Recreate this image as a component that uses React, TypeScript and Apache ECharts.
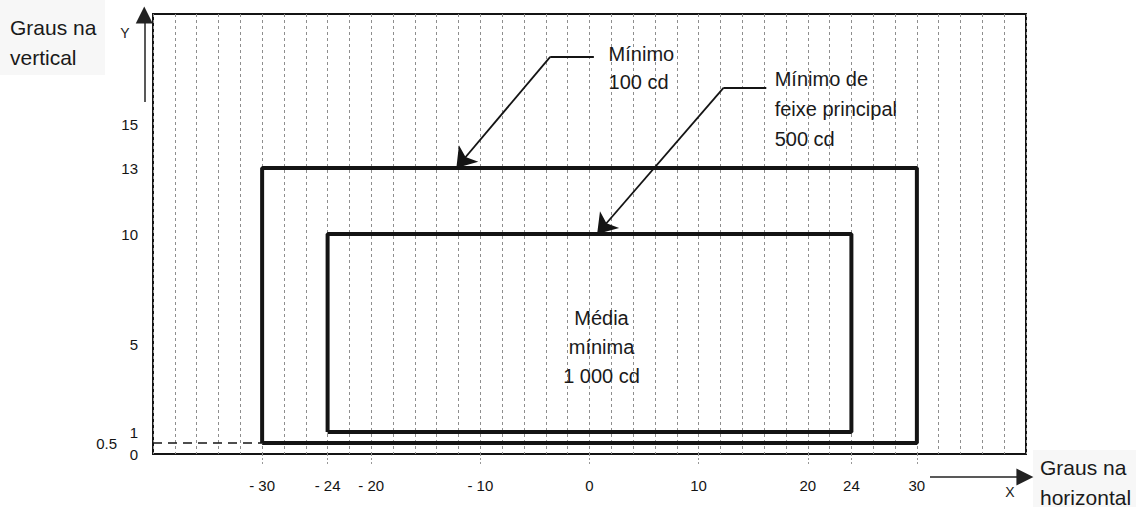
import React, { useEffect, useRef } from "react";
import * as echarts from "echarts";

const FONT = "'Liberation Sans', Arial, sans-serif";

// Axis ticks shown as labels
const xTickLabels = [-30, -24, -20, -10, 0, 10, 20, 24, 30];
const yTickLabels = [0, 0.5, 1, 5, 10, 13, 15];

// Zones (degrees)
const outerX = [-30, 30];
const outerY = [0.5, 13];
const innerX = [-24, 24];
const innerY = [1, 10];

// Dashed reference line at 0.5°
const halfDegreeLine = [[-40, 0.5], [-30, 0.5]];

// Leader arrows (data coordinates): horizontal shoulder then diagonal to tip
const arrow100 = [[0.4, 18.05], [-3.6, 18.05], [-12.2, 13]];
const arrow500 = [[16.2, 16.65], [12.3, 16.65], [0.7, 10]];
const yAxisArrow = [[-40.8, 16.0], [-40.8, 19.95]];
const xAxisArrow = [[31.2, -1.04], [39.9, -1.04]];

// Text annotations: anchor (first line) in data coordinates
const labelMin100 = { x: 1.75, y: 18.2, lines: ["Mínimo", "100 cd"], lh: 28, align: "left" };
const labelMin500 = { x: 16.97, y: 17.06, lines: ["Mínimo de", "feixe principal", "500 cd"], lh: 30, align: "left" };
const labelMedia = { x: 1.1, y: 6.2, lines: ["Média", "mínima", "1 000 cd"], lh: 29, align: "center" };

function rectPath(xs: number[], ys: number[]) {
  return [
    [xs[0], ys[0]],
    [xs[1], ys[0]],
    [xs[1], ys[1]],
    [xs[0], ys[1]],
    [xs[0], ys[0]],
  ];
}

export default function App() {
  const ref = useRef<HTMLDivElement>(null);
  useEffect(() => {
    if (!ref.current) return;
    const chart = echarts.init(ref.current, null, { renderer: "svg" });
    const ink = "#141414";
    const option: any = {
      animation: false,
      backgroundColor: "#ffffff",
      grid: {
        left: 153,
        top: 14,
        right: 110,
        bottom: 53,
        show: true,
        borderColor: ink,
        borderWidth: 2,
        backgroundColor: "transparent",
      },
      xAxis: [
        {
          type: "value",
          min: -40,
          max: 40,
          interval: 2,
          axisLine: { show: false },
          axisTick: {
            show: true,
            customValues: xTickLabels,
            length: 12,
            lineStyle: { color: "#999", type: [2, 2] },
          },
          axisLabel: {
            customValues: xTickLabels,
            margin: 24,
            color: ink,
            fontSize: 15,
            fontFamily: FONT,
            formatter: (v: number) => (v < 0 ? "- " + Math.abs(v) : String(v)),
          },
          splitLine: { show: false },
        },
        {
          type: "value",
          min: -40,
          max: 40,
          interval: 2,
          position: "bottom",
          axisLine: { show: false },
          axisTick: { show: false },
          axisLabel: { show: false },
          splitLine: {
            show: true,
            lineStyle: { color: "#8e8e8e", width: 1, type: [3, 3] },
          },
        },
      ],
      yAxis: {
        type: "value",
        min: 0,
        max: 20,
        interval: 5,
        axisLine: { show: false },
        axisTick: {
          show: true,
          customValues: [0.5],
          length: 31,
          lineStyle: { color: ink, width: 1.5, type: [8, 5] },
        },
        axisLabel: {
          customValues: yTickLabels,
          margin: 15,
          color: ink,
          fontSize: 15,
          fontFamily: FONT,
          formatter: (v: number) => (v === 0.5 ? "{far|0.5}" : String(v)),
          rich: {
            far: { padding: [0, 21, 0, 0], fontSize: 15, color: ink, fontFamily: FONT },
          },
        },
        splitLine: { show: false },
      },
      series: [
        {
          type: "line",
          data: rectPath(outerX, outerY),
          symbol: "none",
          lineStyle: { color: ink, width: 4 },
          z: 5,
        },
        {
          type: "line",
          data: rectPath(innerX, innerY),
          symbol: "none",
          lineStyle: { color: ink, width: 4 },
          z: 5,
        },
        {
          type: "line",
          data: halfDegreeLine,
          symbol: "none",
          lineStyle: { color: ink, width: 1.5, type: [9, 6] },
          z: 4,
        },
        {
          // horizontal shoulders of leader lines
          type: "lines",
          coordinateSystem: "cartesian2d",
          clip: false,
          symbol: "none",
          lineStyle: { color: ink, width: 1.8, opacity: 1 },
          data: [{ coords: arrow100.slice(0, 2) }, { coords: arrow500.slice(0, 2) }],
          z: 6,
        },
        {
          // diagonal parts with arrowheads
          type: "lines",
          coordinateSystem: "cartesian2d",
          clip: false,
          symbol: ["none", "arrow"],
          symbolSize: [0, 19],
          lineStyle: { color: ink, width: 1.8, opacity: 1 },
          data: [{ coords: arrow100.slice(1) }, { coords: arrow500.slice(1) }],
          z: 6,
        },
        {
          type: "lines",
          coordinateSystem: "cartesian2d",
          clip: false,
          symbol: ["none", "triangle"],
          symbolSize: [0, 17],
          lineStyle: { color: "#222", width: 1.5, opacity: 1 },
          data: [{ coords: yAxisArrow }, { coords: xAxisArrow }],
          z: 6,
        },
      ],
    };
    chart.setOption(option);

    const texts: any[] = [];
    const addLabel = (lab: any) => {
      const p = chart.convertToPixel({ gridIndex: 0 }, [lab.x, lab.y]) as number[];
      lab.lines.forEach((t: string, i: number) => {
        texts.push({
          type: "text",
          x: p[0],
          y: p[1] + i * lab.lh,
          z: 10,
          style: {
            text: t,
            fill: "#1a1a1a",
            font: `20px ${FONT}`,
            align: lab.align,
            verticalAlign: "middle",
          },
        });
      });
    };
    addLabel(labelMin100);
    addLabel(labelMin500);
    addLabel(labelMedia);

    const outer: any[] = [
      { type: "rect", shape: { x: 0, y: 0, width: 105, height: 75 }, style: { fill: "#f7f7f7" }, z: 0 },
      { type: "rect", shape: { x: 1033, y: 450, width: 103, height: 57 }, style: { fill: "#f7f7f7" }, z: 0 },
      { type: "text", x: 10, y: 27, style: { text: "Graus na", fill: "#1a1a1a", font: `21px ${FONT}`, verticalAlign: "middle" }, z: 10 },
      { type: "text", x: 10, y: 57, style: { text: "vertical", fill: "#1a1a1a", font: `21px ${FONT}`, verticalAlign: "middle" }, z: 10 },
      { type: "text", x: 1040, y: 467, style: { text: "Graus na", fill: "#1a1a1a", font: `21px ${FONT}`, verticalAlign: "middle" }, z: 10 },
      { type: "text", x: 1040, y: 497, style: { text: "horizontal", fill: "#1a1a1a", font: `21px ${FONT}`, verticalAlign: "middle" }, z: 10 },
      { type: "text", x: 125, y: 33, style: { text: "Y", fill: "#1a1a1a", font: `14px ${FONT}`, align: "center", verticalAlign: "middle" }, z: 10 },
      { type: "text", x: 1010, y: 492, style: { text: "X", fill: "#1a1a1a", font: `14px ${FONT}`, align: "center", verticalAlign: "middle" }, z: 10 },
    ];

    chart.setOption({ graphic: [...outer, ...texts] });
    return () => chart.dispose();
  }, []);
  return (
    <div
      ref={ref}
      style={{ position: "absolute", left: 0, top: 0, width: 1136, height: 507 }}
    />
  );
}
